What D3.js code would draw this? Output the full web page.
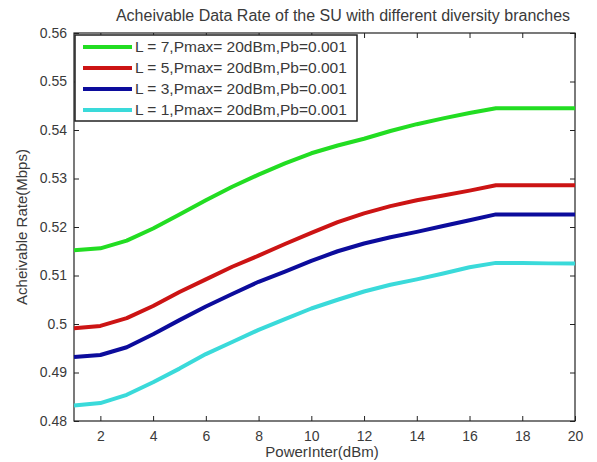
<!DOCTYPE html>
<html>
<head>
<meta charset="utf-8">
<script src="https://cdn.jsdelivr.net/npm/d3@7"></script>
<style>
  body { margin: 0; background: #fff; }
  svg text { font-family: "Liberation Sans", Arial, sans-serif; fill: #3a3a3a; }
</style>
</head>
<body>
<svg id="svg" width="597" height="462"></svg>
<script>
// data
var powerInter = [1, 2, 3, 4, 5, 6, 7, 8, 9, 10, 11, 12, 13, 14, 15, 16, 17, 18, 19, 20];
var rateL7 = [0.5152, 0.5156, 0.5172, 0.5197, 0.5226, 0.5255, 0.5283, 0.5308, 0.5331, 0.5352,
              0.5368, 0.5382, 0.5398, 0.5412, 0.5424, 0.5435, 0.5445, 0.5445, 0.5445, 0.5445];
var rateL5 = [0.4991, 0.4996, 0.5012, 0.5037, 0.5066, 0.5092, 0.5118, 0.5141, 0.5165, 0.5188,
              0.5210, 0.5228, 0.5243, 0.5255, 0.5265, 0.5275, 0.5286, 0.5286, 0.5286, 0.5286];
var rateL3 = [0.4932, 0.4936, 0.4952, 0.4979, 0.5008, 0.5036, 0.5062, 0.5087, 0.5108, 0.5130,
              0.5150, 0.5166, 0.5179, 0.5190, 0.5202, 0.5214, 0.5226, 0.5226, 0.5226, 0.5226];
var rateL1 = [0.4832, 0.4837, 0.4854, 0.4880, 0.4908, 0.4938, 0.4963, 0.4988, 0.5010, 0.5032,
              0.5050, 0.5067, 0.5081, 0.5092, 0.5104, 0.5117, 0.5126, 0.5126, 0.5125, 0.5125];
var seriesNames = ["L = 7,Pmax= 20dBm,Pb=0.001", "L = 5,Pmax= 20dBm,Pb=0.001",
                   "L = 3,Pmax= 20dBm,Pb=0.001", "L = 1,Pmax= 20dBm,Pb=0.001"];
var seriesColors = ["#22dd22", "#cc1414", "#0c0c9c", "#3adada"];
var xTicks = [2, 4, 6, 8, 10, 12, 14, 16, 18, 20];
var yTicks = [0.48, 0.49, 0.5, 0.51, 0.52, 0.53, 0.54, 0.55, 0.56];

var L = 74, R = 575, T = 33, B = 421;
var svg = d3.select("#svg");

var x = d3.scaleLinear().domain([1, 20]).range([L, R]);
var y = d3.scaleLinear().domain([0.48, 0.56]).range([B, T]);

// title
svg.append("text")
    .attr("x", 343).attr("y", 21)
    .attr("text-anchor", "middle")
    .style("font-size", "16px")
    .text("Acheivable Data Rate of the SU with different diversity branches");

// axes (ticks inside, like matlab)
var fmt = d3.format("");
svg.append("g").attr("transform", "translate(0," + B + ")")
    .call(d3.axisBottom(x).tickValues(xTicks).tickSizeInner(-5).tickSizeOuter(0).tickPadding(10));
svg.append("g").attr("transform", "translate(0," + T + ")")
    .call(d3.axisTop(x).tickValues(xTicks).tickSizeInner(-5).tickSizeOuter(0).tickFormat(""));
svg.append("g").attr("transform", "translate(" + L + ",0)")
    .call(d3.axisLeft(y).tickValues(yTicks).tickSizeInner(-5).tickSizeOuter(0).tickPadding(7)
        .tickFormat(d => fmt(+d.toFixed(2))));
svg.append("g").attr("transform", "translate(" + R + ",0)")
    .call(d3.axisRight(y).tickValues(yTicks).tickSizeInner(-5).tickSizeOuter(0).tickFormat(""));

svg.selectAll(".domain").remove();
svg.selectAll(".tick line").attr("stroke", "#222");
svg.selectAll(".tick text").style("font-size", "14px")
    .attr("fill", "#444").style("font-family", "Liberation Sans, Arial, sans-serif");

svg.append("rect")
    .attr("x", L).attr("y", T).attr("width", R - L).attr("height", B - T)
    .attr("fill", "none").attr("stroke", "#222").attr("stroke-width", 1.2);

// axis labels
svg.append("text")
    .attr("x", 322).attr("y", 457)
    .attr("text-anchor", "middle")
    .style("font-size", "15px")
    .text("PowerInter(dBm)");
svg.append("text")
    .attr("transform", "translate(27,227) rotate(-90)")
    .attr("text-anchor", "middle")
    .style("font-size", "15px")
    .text("Acheivable Rate(Mbps)");

// lines
var allRates = [rateL7, rateL5, rateL3, rateL1];
var line = d3.line()
    .x((d, i) => x(powerInter[i]))
    .y(d => y(d));

allRates.forEach((r, k) => {
    svg.append("path")
        .datum(r)
        .attr("d", line)
        .attr("fill", "none")
        .attr("stroke", seriesColors[k])
        .attr("stroke-width", 4)
        .attr("stroke-linejoin", "round");
});

// legend
var lg = svg.append("g");
lg.append("rect")
    .attr("x", 75).attr("y", 35).attr("width", 282).attr("height", 86)
    .attr("fill", "#fff").attr("stroke", "#222").attr("stroke-width", 1.5);
seriesNames.forEach((s, k) => {
    var yy = 47 + k * 21;
    lg.append("line")
        .attr("x1", 83).attr("x2", 132)
        .attr("y1", yy).attr("y2", yy)
        .attr("stroke", seriesColors[k]).attr("stroke-width", 4);
    lg.append("text")
        .attr("x", 135).attr("y", yy + 5)
        .style("font-size", "15.5px")
        .text(s);
});
</script>
</body>
</html>
